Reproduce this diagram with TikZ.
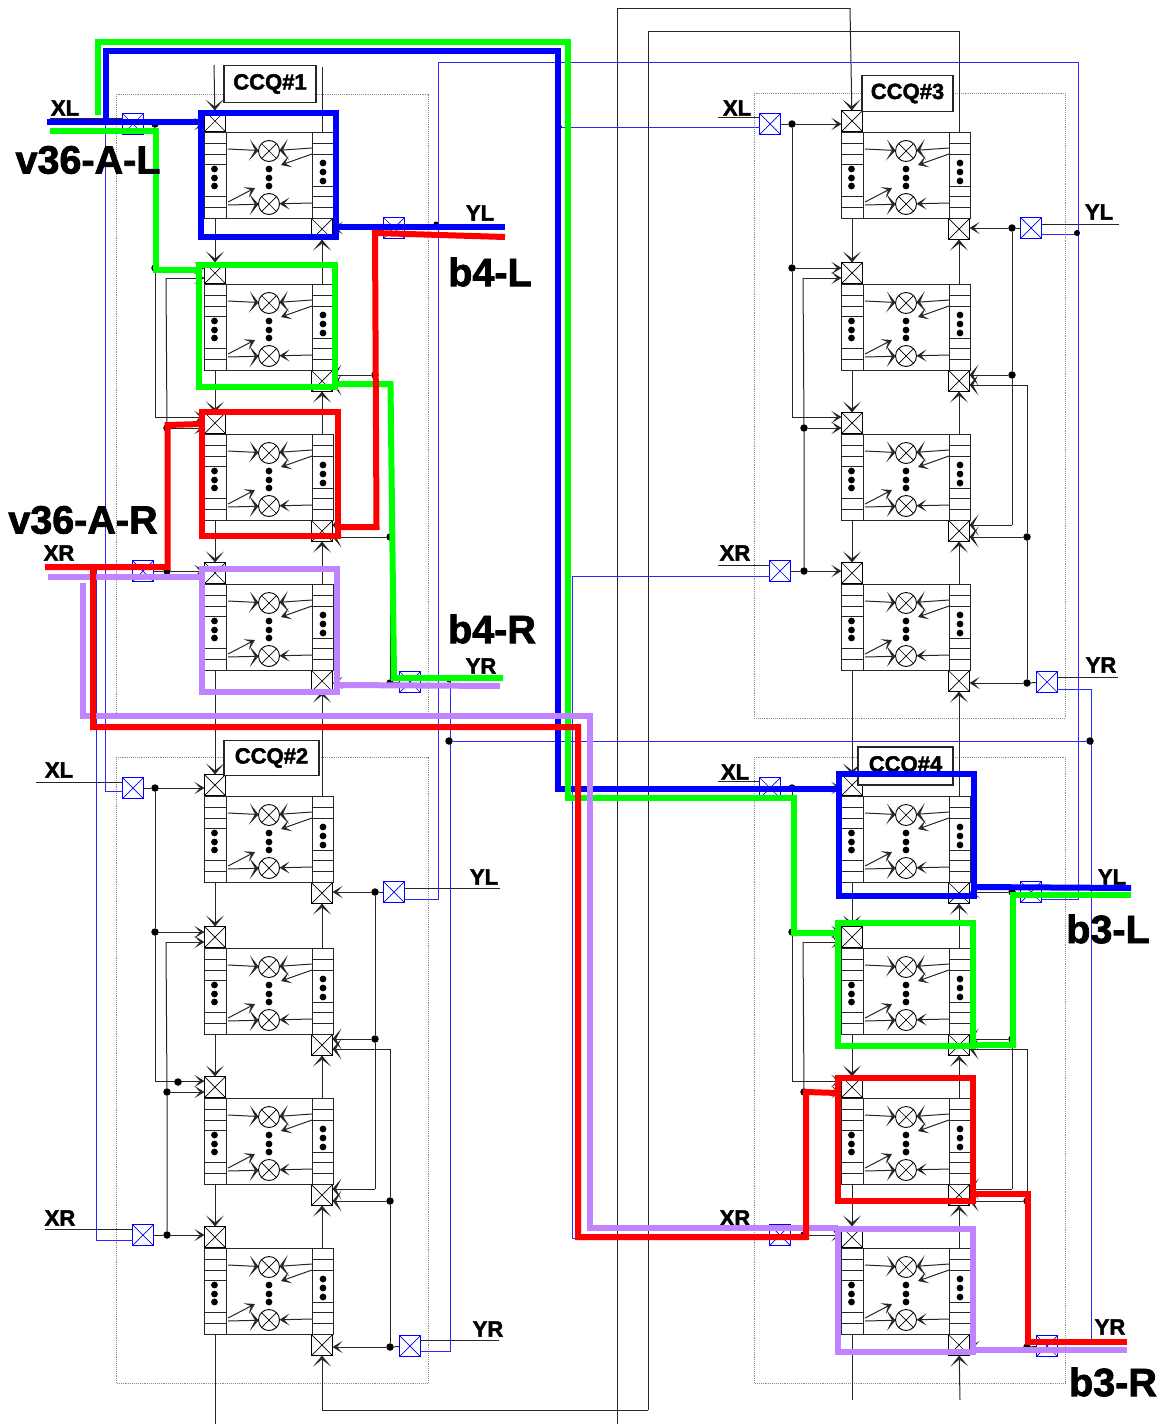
\documentclass[tikz,border=0pt]{standalone}
\usepackage{fontspec}
\usetikzlibrary{arrows.meta,calc}
\newfontfamily\lab{Liberation Sans Bold}[FakeBold=2]
\definecolor{tblue}{RGB}{0,0,255}
\definecolor{tgreen}{RGB}{0,255,0}
\definecolor{tred}{RGB}{255,0,0}
\definecolor{tpurple}{RGB}{192,132,255}
\definecolor{wireblue}{RGB}{40,40,255}
\tikzset{
  wblk/.style={draw=black!85,line width=1pt},
  wblu/.style={draw=wireblue,line width=1pt},
  barr/.style={wblk,-{Stealth[length=11pt,width=18pt,inset=7pt]}},
  carr/.style={wblk,-{Stealth[length=9pt,width=21pt,inset=5.5pt]}},
  sarr/.style={wblk,-{Stealth[length=10pt,width=12pt,inset=5.5pt]}},
  crossed/.style={path picture={
    \draw[line width=0.7pt] (path picture bounding box.north west)--(path picture bounding box.south east)
      (path picture bounding box.north east)--(path picture bounding box.south west);}},
  xb/.style={draw=black,line width=1pt,rectangle,minimum size=21pt,inner sep=0pt,outer sep=0pt,crossed},
  xbb/.style={draw=blue,line width=1pt,rectangle,minimum size=21pt,inner sep=0pt,outer sep=0pt,crossed},
  xc/.style={draw=black,line width=0.9pt,circle,minimum size=21pt,inner sep=0pt,outer sep=0pt,crossed},
  jn/.style={fill=black,circle,minimum size=7.5pt,inner sep=0pt,outer sep=0pt},
  frm/.style={draw=black!45,line width=0.9pt,densely dotted},
  ccqb/.style={draw=black!85,fill=white,line width=1.3pt,inner sep=0pt,outer sep=0pt,font=\lab\fontsize{22}{23}\selectfont},
  sl/.style={font=\lab\fontsize{22}{23}\selectfont,inner sep=0pt},
  bl/.style={font=\lab\fontsize{39.5}{41}\selectfont,inner sep=0pt},
  thk/.style={line width=6pt,line join=miter,line cap=butt},
}
\newcommand\rdots[2]{\fill (#1,#2) circle (3.4pt);}
\newcommand\ccqtext[1]{\raisebox{-4pt}{#1}}
\newcommand\router[2]{%
  \node[xb] (#1-in) at (215,#2+11) {};
  \node[xb] (#1-out) at (322,#2+119) {};
  \draw[wblk] (204,#2+22) rectangle (333,#2+108);
  \draw[wblk] (226,#2+22) -- (226,#2+108);
  \draw[wblk] (312,#2+22) -- (312,#2+108);
  \foreach \d in {33,44,54,86,97} {\draw[wblk] (204,#2+\d) -- (226,#2+\d);}
  \foreach \d in {33,44,76,86,97} {\draw[wblk] (312,#2+\d) -- (333,#2+\d);}
  \node[xc] (#1-c1) at (269,#2+41) {};
  \node[xc] (#1-c2) at (269,#2+94) {};
  \coordinate (#1-bl) at (215,#2+108);
  \coordinate (#1-tr) at (322,#2+22);
  \coordinate (#1-a) at (228,#2+39);
  \coordinate (#1-b) at (312,#2+38);
  \coordinate (#1-c) at (312,#2+44);
  \coordinate (#1-cx) at (281,#2+55);
  \coordinate (#1-d) at (228,#2+92);
  \coordinate (#1-dx) at (255,#2+78);
  \coordinate (#1-e) at (228,#2+95);
  \coordinate (#1-f) at (312,#2+93);
  \draw[carr] (#1-a) -- (#1-c1);
  \draw[carr] (#1-b) -- (#1-c1);
  \draw[sarr] (#1-c) -- (#1-cx);
  \draw[sarr] (#1-d) -- (#1-dx);
  \draw[carr] (#1-e) -- (#1-c2);
  \draw[sarr] (#1-f) -- (#1-c2);
  \rdots{269}{#2+59}\rdots{269}{#2+68}\rdots{269}{#2+76}
  \rdots{214.5}{#2+59}\rdots{214.5}{#2+68}\rdots{214.5}{#2+76}
  \rdots{323}{#2+53}\rdots{323}{#2+62}\rdots{323}{#2+71}
}
\newcommand\ccq[3]{%
 \begin{scope}[shift={(#2,#3)}]
  \router{#1-r1}{110}
  \router{#1-r2}{262}
  \router{#1-r3}{412}
  \router{#1-r4}{562}
  \draw[barr] (#1-r1-bl) -- (#1-r2-in);
  \draw[barr] (#1-r2-bl) -- (#1-r3-in);
  \draw[barr] (#1-r3-bl) -- (#1-r4-in);
  \draw[barr] (#1-r2-tr) -- (#1-r1-out);
  \draw[barr] (#1-r3-tr) -- (#1-r2-out);
  \draw[barr] (#1-r4-tr) -- (#1-r3-out);
  \node[xbb] (#1-xl) at (133,124) {};
  \node[xbb] (#1-xr) at (143,571) {};
  \node[xbb] (#1-yl) at (394,228) {};
  \node[xbb] (#1-yr) at (410,682) {};
  % left side
  \node[jn] (#1-j1) at (155,124) {};
  \node[jn] (#1-j2) at (155,268) {};
  \node[jn] (#1-j3) at (167,428) {};
  \node[jn] (#1-j4) at (167,571) {};
  \coordinate (#1-lc1) at (155,417);
  \coordinate (#1-lc2) at (166,278);
  \draw[wblk] (#1-xl) -- (#1-j1);
  \draw[sarr] (#1-j1) -- (#1-r1-in.west |- #1-j1);
  \draw[wblk] (#1-j1) -- (#1-j2) -- (#1-lc1);
  \draw[sarr] (#1-j2) -- (#1-r2-in.west |- #1-j2);
  \draw[sarr] (#1-lc1) -- (#1-r3-in.west |- #1-lc1);
  \draw[sarr] (#1-lc2) -- (#1-r2-in.west |- #1-lc2);
  \draw[wblk] (#1-lc2) -- (#1-j3) -- (#1-j4);
  \draw[sarr] (#1-j3) -- (#1-r3-in.west |- #1-j3);
  \draw[wblk] (#1-xr) -- (#1-j4);
  \draw[sarr] (#1-j4) -- (#1-r4-in.west |- #1-j4);
  % right side
  \node[jn] (#1-j6) at (375,228) {};
  \node[jn] (#1-j7) at (375,375) {};
  \node[jn] (#1-j8) at (390,537) {};
  \node[jn] (#1-j9) at (390,683) {};
  \coordinate (#1-rc1) at (375,525);
  \coordinate (#1-rc2) at (390,385);
  \draw[wblk] (#1-yl) -- (#1-j6);
  \draw[sarr] (#1-j6) -- (#1-r1-out.east |- #1-j6);
  \draw[wblk] (#1-j6) -- (#1-j7) -- (#1-rc1);
  \draw[carr] (#1-j7) -- (#1-r2-out.east |- #1-j7);
  \draw[carr] (#1-rc1) -- (#1-r3-out.east |- #1-rc1);
  \draw[carr] (#1-rc2) -- (#1-r2-out.east |- #1-rc2);
  \draw[wblk] (#1-rc2) -- (#1-j8) -- (#1-j9);
  \draw[carr] (#1-j8) -- (#1-r3-out.east |- #1-j8);
  \draw[wblk] (#1-yr) -- (#1-j9);
  \draw[sarr] (#1-j9) -- (#1-r4-out.east |- #1-j9);
 \end{scope}
}
\begin{document}
\begin{tikzpicture}[x=1pt,y=-1pt]
\useasboundingbox (0,0) rectangle (1165,1424);
% dotted frames
\draw[frm] (116,94) rectangle (428,718);
\draw[frm] (116,757) rectangle (428,1383);
\draw[frm] (754,93) rectangle (1065,718);
\draw[frm] (754,757) rectangle (1065,1383);
% blocks
\ccq{ca}{0}{0}
\ccq{cb}{0}{664}
\ccq{cc}{637}{0}
\ccq{cd}{637}{664}
\node[jn] (cb-jx) at (178,1082) {};
% inter-block black wires
\coordinate (ca-topin) at (214,65);
\coordinate (ca-topout) at (322,67);
\draw[barr] (ca-topin) -- (ca-r1-in);
\draw[wblk] (ca-r1-tr) -- (ca-topout);
\draw[barr] (ca-r4-bl) -- (cb-r1-in);
\draw[barr] (cb-r1-tr) -- (ca-r4-out);
\draw[barr] (cc-r4-bl) -- (cd-r1-in);
\draw[barr] (cd-r1-tr) -- (cc-r4-out);
\coordinate (b-a) at (215,1424);
\draw[wblk] (cb-r4-bl) -- (b-a);
\coordinate (b-b) at (852,1400);
\draw[wblk] (cd-r4-bl) -- (b-b);
\coordinate (b-c) at (960,1400);
\draw[barr] (b-c) -- (cd-r4-out);
\coordinate (t-a) at (617,1424);
\coordinate (t-b) at (617,8);
\coordinate (t-c) at (850,8);
\draw[wblk] (t-a) -- (t-b) -- (t-c);
\draw[barr] (t-c) -- (cc-r1-in);
\coordinate (t-d) at (322,1410);
\coordinate (t-e) at (648,1410);
\coordinate (t-f) at (648,31);
\coordinate (t-g) at (959,31);
\draw[barr] (t-e) -- (t-d) -- (cb-r4-out);
\draw[wblk] (t-e) -- (t-f) -- (t-g) -- (cc-r1-tr);
% terminal lines
\coordinate (l1) at (50,118); \draw[wblk] (l1) -- (ca-xl.west |- l1);
\coordinate (l2) at (45,565); \draw[wblk] (l2) -- (ca-xr.west |- l2);
\coordinate (l3) at (505,224); \draw[wblk] (l3) -- (ca-yl.east |- l3);
\coordinate (l4) at (500,677); \draw[wblk] (l4) -- (ca-yr.east |- l4);
\coordinate (l5) at (36,782); \draw[wblk] (l5) -- (cb-xl.west |- l5);
\coordinate (l6) at (45,1229); \draw[wblk] (l6) -- (cb-xr.west |- l6);
\coordinate (l7) at (500,888); \draw[wblk] (l7) -- (cb-yl.east |- l7);
\coordinate (l8) at (499,1340); \draw[wblk] (l8) -- (cb-yr.east |- l8);
\coordinate (l9) at (718,117); \draw[wblk] (l9) -- (cc-xl.west |- l9);
\coordinate (l10) at (718,565); \draw[wblk] (l10) -- (cc-xr.west |- l10);
\coordinate (l11) at (1119,224); \draw[wblk] (l11) -- (cc-yl.east |- l11);
\coordinate (l12) at (1118,677); \draw[wblk] (l12) -- (cc-yr.east |- l12);
\coordinate (l13) at (718,781); \draw[wblk] (l13) -- (cd-xl.west |- l13);
\coordinate (l14) at (718,1229); \draw[wblk] (l14) -- (cd-xr.west |- l14);
\coordinate (l15) at (1120,888); \draw[wblk] (l15) -- (cd-yl.east |- l15);
\coordinate (l16) at (1120,1341); \draw[wblk] (l16) -- (cd-yr.east |- l16);
% blue thin wires
\draw[wblu] (ca-xl.west |- 0,123) -- (105,123) -- (105,791) -- (cb-xl.west |- 0,791);
\draw[wblu] (ca-xr.west |- 0,566) -- (96,566) -- (96,1240) -- (cb-xr.west |- 0,1240);
\draw[wblu] (cb-yl.east |- 0,899) -- (438,899) -- (438,62) -- (1078,62) -- (1078,899) -- (cd-yl.east |- 0,899);
\draw[wblu] (ca-yl.east |- 0,224) -- (438,224);
\draw[wblu] (cc-yl.east |- 0,234) -- (1078,234);
\draw[wblu] (ca-yr.east |- 0,680) -- (450,680) -- (450,1351) -- (cb-yr.east |- 0,1351);
\draw[wblu] (cc-yr.east |- 0,689) -- (1091,689) -- (1091,1342) -- (cd-yr.east |- 0,1342);
\node[jn] (jb1) at (449,741) {};
\node[jn] (jb2) at (1090,741) {};
\draw[wblu] (jb1) -- (jb2);
\draw[wblu] (cc-xl.west |- 0,127) -- (560,127) -- (560,790) -- (cd-xl.west |- 0,790);
\draw[wblu] (cc-xr.west |- 0,576) -- (572,576) -- (572,1238) -- (cd-xr.west |- 0,1238);
\node[jn,minimum size=4pt] (jb3) at (560,127) {};
\node[jn,minimum size=5pt] (jb4) at (436,224) {};
\node[jn,minimum size=6pt] (jb5) at (1077,233) {};
\node[jn,minimum size=5pt] (jb6) at (449,680) {};
% CCQ labels
\node[ccqb,minimum width=92pt,minimum height=37pt] (q1) at (270,84) {\ccqtext{CCQ\#1}};
\node[ccqb,minimum width=95pt,minimum height=35pt] (q2) at (271.5,758) {\ccqtext{CCQ\#2}};
\node[ccqb,minimum width=91pt,minimum height=36pt] (q3) at (907.5,93.5) {\ccqtext{CCQ\#3}};
\node[ccqb,minimum width=95pt,minimum height=38pt] (q4) at (905.5,766) {\ccqtext{CCQ\#4}};
% small labels
\node[sl] (t1) at (65,108) {XL};
\node[sl] (t2) at (59,553) {XR};
\node[sl] (t3) at (480,213) {YL};
\node[sl] (t4) at (481,666) {YR};
\node[sl] (t5) at (59,770) {XL};
\node[sl] (t6) at (60,1218) {XR};
\node[sl] (t7) at (484,877) {YL};
\node[sl] (t8) at (488,1329) {YR};
\node[sl] (t9) at (737,108) {XL};
\node[sl] (t10) at (735,553) {XR};
\node[sl] (t11) at (1099,212) {YL};
\node[sl] (t12) at (1101,665) {YR};
\node[sl] (t13) at (735,772) {XL};
\node[sl] (t14) at (735,1218) {XR};
\node[sl] (t15) at (1112,877) {YL};
\node[sl] (t16) at (1110,1327) {YR};
% thick blue
\coordinate (pb1) at (47,122);
\coordinate (pb2) at (336,227);
\coordinate (pb3) at (505,227);
\coordinate (pb4) at (105.5,122);
\coordinate (pb5) at (840,789);
\coordinate (pb6) at (974,887);
\coordinate (pb7) at (1131,888);
\draw[thk,tblue] (pb1) -- (198,122);
\draw[thk,tblue] (201,113) rectangle (336,237);
\draw[thk,tblue] (pb2) -- (pb3);
\draw[thk,tblue] (pb4) -- (105.5,51) -- (558,51) -- (558,789) -- (pb5);
\draw[thk,tblue] (839,774) rectangle (974,896);
\draw[thk,tblue] (pb6) -- (pb7);
% thick green
\coordinate (pg1) at (97.5,115);
\coordinate (pg2) at (838,933);
\coordinate (pg3) at (50,131);
\coordinate (pg4) at (200,270);
\coordinate (pg5) at (335,384);
\coordinate (pg6) at (503,678);
\coordinate (pg7) at (973,1045);
\coordinate (pg8) at (1131,895);
\draw[thk,tgreen] (pg3) -- (156,131) -- (156,270) -- (pg4);
\draw[thk,tgreen] (199,265) rectangle (335,387);
\draw[thk,tgreen] (pg5) -- (390.5,384) -- (394,678) -- (pg6);
\draw[thk,tgreen] (pg1) -- (97.5,42) -- (568,42) -- (568,798) -- (794,798) -- (794,933) -- (pg2);
\draw[thk,tgreen] (838,923) rectangle (973,1046);
\draw[thk,tgreen] (pg7) -- (1012.5,1045) -- (1012.5,895) -- (pg8);
% thick purple
\coordinate (pp1) at (48,577);
\coordinate (pp2) at (201,577);
\coordinate (pp3) at (340,685);
\coordinate (pp4) at (500,686);
\coordinate (pp5) at (83,583);
\coordinate (pp6) at (838,1228);
\coordinate (pp7) at (973,1350);
\coordinate (pp8) at (1127,1350);
\draw[thk,tpurple] (pp1) -- (pp2);
\draw[thk,tpurple] (202,569) rectangle (337,692);
\draw[thk,tpurple] (pp3) -- (pp4);
\draw[thk,tpurple] (pp5) -- (83,716) -- (590,716) -- (590,1228) -- (pp6);
\draw[thk,tpurple] (838,1229) rectangle (973,1352);
\draw[thk,tpurple] (pp7) -- (pp8);
% thick red
\coordinate (pr1) at (45,567);
\coordinate (pr2) at (201,424);
\coordinate (pr3) at (337,527);
\coordinate (pr4) at (505,237);
\coordinate (pr5) at (93,567);
\coordinate (pr6) at (838,1093);
\coordinate (pr7) at (973,1194);
\coordinate (pr8) at (1127,1342);
\draw[thk,tred] (pr1) -- (167.5,567) -- (167.5,425) -- (pr2);
\draw[thk,tred] (202,412) rectangle (338,536);
\draw[thk,tred] (pr3) -- (376.5,527) -- (375,233) -- (pr4);
\draw[thk,tred] (pr5) -- (93,727) -- (578,727) -- (578,1237) -- (806,1237) -- (806,1092) -- (pr6);
\draw[thk,tred] (838,1078) rectangle (973,1201);
\draw[thk,tred] (pr7) -- (1028,1194) -- (1028,1342) -- (pr8);
% big labels
\node[bl] (v1) at (88,160) {v36-A-L};
\node[bl] (v2) at (83,520) {v36-A-R};
\node[bl] (v3) at (490,272) {b4-L};
\node[bl] (v4) at (492,629) {b4-R};
\node[bl] (v5) at (1108,929) {b3-L};
\node[bl] (v6) at (1113,1382) {b3-R};
\end{tikzpicture}
\end{document}
